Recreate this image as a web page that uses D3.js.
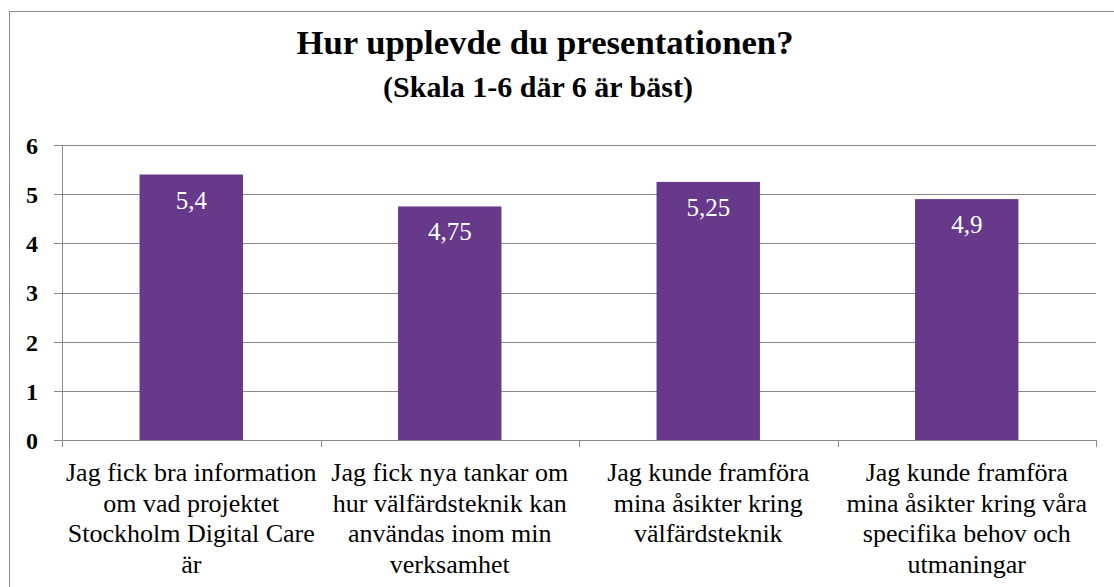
<!DOCTYPE html>
<html>
<head>
<meta charset="utf-8">
<script src="https://cdn.jsdelivr.net/npm/d3@7"></script>
<style>
  body { margin: 0; background: #fff; }
  svg text { font-family: "Liberation Serif", "Times New Roman", Times, serif !important; }
</style>
</head>
<body>
<svg id="chart" width="1114" height="587"></svg>
<script>
// data
const categories = [
  ["Jag fick bra information", "om vad projektet", "Stockholm Digital Care", "är"],
  ["Jag fick nya tankar om", "hur välfärdsteknik kan", "användas inom min", "verksamhet"],
  ["Jag kunde framföra", "mina åsikter kring", "välfärdsteknik"],
  ["Jag kunde framföra", "mina åsikter kring våra", "specifika behov och", "utmaningar"]
];
const values = [5.4, 4.75, 5.25, 4.9];
const valueLabels = ["5,4", "4,75", "5,25", "4,9"];
const yTicks = [0, 1, 2, 3, 4, 5, 6];

const titleText = "Hur upplevde du presentationen?";
const subtitleText = "(Skala 1-6 där 6 är bäst)";

const serif = "'Liberation Serif', 'Times New Roman', Times, serif";
const svg = d3.select("#chart");
const gridColor = "#898989";
const barColor = "#66398a";

// outer frame (cut off at right and bottom like the original)
svg.append("rect")
    .attr("x", 9.5).attr("y", 11.5)
    .attr("width", 1120).attr("height", 600)
    .attr("fill", "none")
    .attr("stroke", gridColor);

svg.append("text")
    .attr("x", 545).attr("y", 54)
    .attr("text-anchor", "middle")
    .attr("font-family", serif)
    .style("font-size", "34.7px").style("font-weight", "bold")
    .text(titleText);

svg.append("text")
    .attr("x", 538).attr("y", 97)
    .attr("text-anchor", "middle")
    .attr("font-family", serif)
    .style("font-size", "30px").style("font-weight", "bold")
    .text(subtitleText);

const plot = {left: 62, right: 1096, top: 145, bottom: 440};

const x = d3.scaleBand()
    .domain(d3.range(values.length))
    .range([plot.left, plot.right])
    .paddingInner(0.6)
    .paddingOuter(0.3);

const y = d3.scaleLinear()
    .domain([0, 6])
    .range([plot.bottom, plot.top]);

// gridlines + y axis
const yAxis = d3.axisLeft(y)
    .tickValues(yTicks)
    .tickSize(-(plot.right - plot.left) - 8)
    .tickFormat(d3.format("d"));

const gy = svg.append("g")
    .attr("transform", "translate(" + plot.left + ",0)")
    .call(yAxis)
    .attr("font-family", serif);
gy.select(".domain").remove();
gy.selectAll(".tick line")
    .attr("x1", -8)
    .attr("x2", plot.right - plot.left)
    .attr("stroke", gridColor)
    .attr("shape-rendering", "crispEdges");
gy.selectAll(".tick text")
    .attr("x", -24)
    .attr("dy", "0.35em")
    .attr("font-family", serif)
    .style("font-size", "24px")
    .style("font-weight", "bold")
    .attr("fill", "#000");

svg.append("line")
    .attr("x1", plot.left + 0.5).attr("x2", plot.left + 0.5)
    .attr("y1", plot.top).attr("y2", plot.bottom)
    .attr("stroke", gridColor);

// category boundary ticks under the axis
const bounds = d3.range(values.length + 1).map(i => plot.left + i * (plot.right - plot.left) / values.length);
svg.selectAll(".xtick")
    .data(bounds)
    .enter().append("line")
    .attr("class", "xtick")
    .attr("x1", d => Math.round(d) + 0.5).attr("x2", d => Math.round(d) + 0.5)
    .attr("y1", plot.bottom).attr("y2", plot.bottom + 7)
    .attr("stroke", gridColor);

// bars
svg.selectAll(".bar")
    .data(values)
    .enter().append("rect")
    .attr("class", "bar")
    .attr("x", (d, i) => x(i))
    .attr("width", x.bandwidth())
    .attr("y", d => y(d))
    .attr("height", d => y(0) - y(d))
    .attr("fill", barColor);

// value labels
svg.selectAll(".vlabel")
    .data(values)
    .enter().append("text")
    .attr("class", "vlabel")
    .attr("x", (d, i) => x(i) + x.bandwidth() / 2)
    .attr("y", d => y(d) + 34)
    .attr("text-anchor", "middle")
    .attr("font-family", serif)
    .attr("fill", "#fff")
    .style("font-size", "25px")
    .text((d, i) => valueLabels[i]);

// category labels
const catG = svg.selectAll(".cat")
    .data(categories)
    .enter().append("text")
    .attr("class", "cat")
    .attr("text-anchor", "middle")
    .attr("font-family", serif)
    .style("font-size", "26px");

catG.selectAll("tspan")
    .data((d, i) => d.map(line => ({line: line, i: i})))
    .enter().append("tspan")
    .attr("x", d => x(d.i) + x.bandwidth() / 2)
    .attr("y", (d, j) => 481 + j * 30.5)
    .text(d => d.line);
</script>
</body>
</html>
